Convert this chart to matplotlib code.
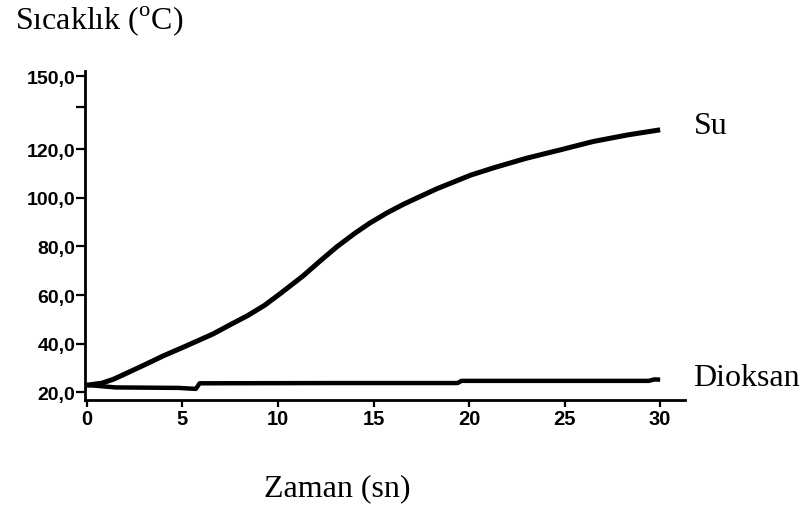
import matplotlib
matplotlib.use("Agg")
import matplotlib.pyplot as plt

plt.rcParams['mathtext.fontset'] = 'custom'
plt.rcParams['mathtext.rm'] = 'Liberation Serif'

# Data
su_t = [0, 0.8, 1.4, 2.2, 3.1, 4.0, 5.0, 6.6, 7.5, 8.4, 9.3, 10.1, 11.3, 12.2, 13.1, 14.0, 14.8, 15.7, 16.6, 18.3, 20.1, 21.3, 23.0, 24.8, 26.5, 28.3, 30.0]
su_v = [22.9, 23.8, 25.4, 28.3, 31.6, 35.0, 38.4, 44.0, 47.8, 51.5, 55.8, 60.5, 67.8, 74.0, 80.0, 85.3, 89.6, 93.8, 97.5, 103.7, 109.4, 112.4, 116.3, 119.8, 123.2, 125.9, 128.0]

dio_t = [0, 1.5, 4.8, 5.7, 5.9, 13.0, 19.4, 19.6, 29.4, 29.7, 30.0]
dio_v = [23.0, 22.0, 21.8, 21.4, 23.7, 23.8, 23.8, 24.7, 24.7, 25.3, 25.2]

x_ticks = [0, 5, 10, 15, 20, 25, 30]
y_ticks = [20, 40, 60, 80, 100, 120, 150]
y_tick_labels = ["20,0", "40,0", "60,0", "80,0", "100,0", "120,0", "150,0"]
y_minor_ticks = [137.5]

fig = plt.figure(figsize=(8.05, 5.10), dpi=100)
ax = fig.add_axes([85/805, 1 - 400.7/510, 600/805, (400.7 - 72)/510])

ax.plot(su_t, su_v, color='black', lw=3.6, solid_capstyle='butt', solid_joinstyle='round')
ax.plot(dio_t, dio_v, color='black', lw=3.2, solid_capstyle='butt')

ax.set_xlim(-0.1, 31.3)
ax.set_ylim(16.95, 152.2)

for s in ['top', 'right']:
    ax.spines[s].set_visible(False)
for s in ['left', 'bottom']:
    ax.spines[s].set_linewidth(2.0)
    ax.spines[s].set_color('black')

ytick_font = dict(family='Liberation Sans', weight='bold', size=14)
xtick_font = dict(family='Liberation Sans', weight='bold', size=14.5)
ax.set_xticks(x_ticks)
ax.set_xticklabels([str(v) for v in x_ticks], fontdict=xtick_font)
ax.set_yticks(y_ticks)
ax.set_yticklabels(y_tick_labels, fontdict=ytick_font)
ax.set_yticks(y_minor_ticks, minor=True)
ax.tick_params(axis='y', which='both', length=6.5, width=1.6, pad=0.5, direction='out')
ax.tick_params(axis='x', which='both', length=5, width=1.6, pad=1.5, direction='out')

serif = dict(family='Liberation Serif', size=23)
fig.text(15/805, 1 - 29/510, r'Sıcaklık ($^{\mathrm{o}}$C)', ha='left', va='baseline', **serif)
fig.text(337/805, 1 - 496/510, 'Zaman (sn)', ha='center', va='baseline', **serif)
fig.text(694/805, 1 - 134/510, 'Su', ha='left', va='baseline', **serif)
fig.text(693/805, 1 - 386/510, 'Dioksan', ha='left', va='baseline', **serif)

fig.savefig('out.png', dpi=100)
